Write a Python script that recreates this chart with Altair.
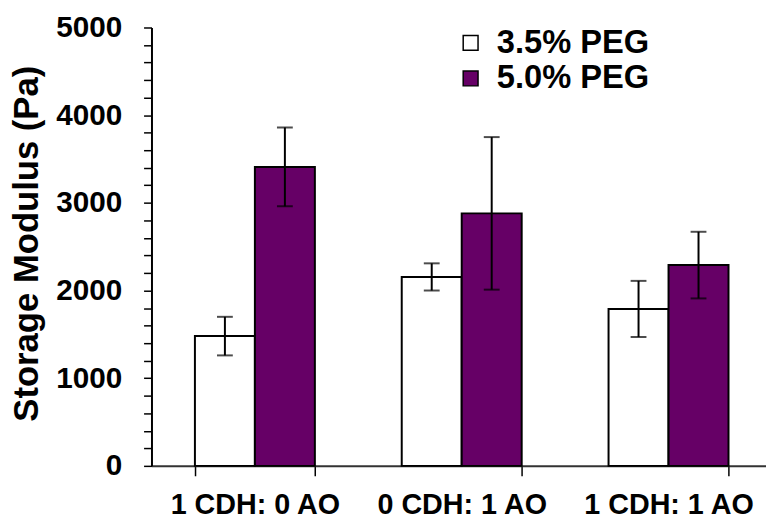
import altair as alt
import pandas as pd

categories = ["1 CDH: 0 AO", "0 CDH: 1 AO", "1 CDH: 1 AO"]
series = ["3.5% PEG", "5.0% PEG"]
peg35 = [1480, 2155, 1790]
peg35_err = [220, 155, 320]
peg50 = [3410, 2880, 2290]
peg50_err = [450, 870, 380]
y_ticks = list(range(0, 5001, 200))
colors = ["#ffffff", "#660066"]

rows = []
for c, v, e in zip(categories, peg35, peg35_err):
    rows.append({"cat": c, "series": series[0], "value": v, "lo": v - e, "hi": v + e})
for c, v, e in zip(categories, peg50, peg50_err):
    rows.append({"cat": c, "series": series[1], "value": v, "lo": v - e, "hi": v + e})
df = pd.DataFrame(rows)

FONT = "Liberation Sans"

x = alt.X("cat:N", sort=categories, title=None,
          scale=alt.Scale(range=[0, 627], paddingInner=0.42, paddingOuter=0.21),
          axis=alt.Axis(labelAngle=0, labelFont=FONT, labelFontSize=29, labelFontWeight="bold",
                        labelColor="black", labelPadding=15, tickBand="extent", tickSize=10,
                        tickColor="black", tickWidth=1.5, domainColor="#333333", domainWidth=2,
                        labelOverlap=False))
xo = alt.XOffset("series:N", sort=series, scale=alt.Scale(paddingInner=0, paddingOuter=0))
yscale = alt.Scale(domain=[0, 5000], nice=False)
y = alt.Y("value:Q", scale=yscale, title="Storage Modulus (Pa)",
          axis=alt.Axis(values=y_ticks, tickCount=len(y_ticks) + 5, format="d",
                        labelExpr="datum.value % 1000 == 0 ? datum.label : ''",
                        labelOverlap=False,
                        labelFont=FONT, labelFontSize=30, labelFontWeight="bold", labelColor="black",
                        labelPadding=22, tickSize=8, tickColor="black", tickWidth=1.5,
                        domainColor="black", domainWidth=2, grid=False,
                        titleFont=FONT, titleFontSize=35, titleFontWeight="bold", titleColor="black",
                        titleX=-108, titleY=218))

bars = alt.Chart(df).mark_bar(stroke="black", strokeWidth=2).encode(
    x=x, xOffset=xo, y=y,
    fill=alt.Fill("series:N", sort=series, scale=alt.Scale(domain=series, range=colors),
                  legend=alt.Legend(title=None, orient="none", legendX=306, legendY=-1,
                                    symbolType="square", symbolSize=225, symbolStrokeColor="black",
                                    symbolStrokeWidth=1.5, labelFont=FONT, labelFontSize=33,
                                    labelFontWeight="bold", labelColor="black", labelOffset=10,
                                    rowPadding=2, padding=0)),
)

rules = alt.Chart(df).mark_rule(color="black", strokeWidth=2).encode(
    x=x, xOffset=xo, y=alt.Y("lo:Q", scale=yscale), y2="hi:Q")
cap_lo = alt.Chart(df).mark_tick(color="black", thickness=2, size=16, orient="horizontal").encode(
    x=x, xOffset=xo, y=alt.Y("lo:Q", scale=yscale))
cap_hi = alt.Chart(df).mark_tick(color="black", thickness=2, size=16, orient="horizontal").encode(
    x=x, xOffset=xo, y=alt.Y("hi:Q", scale=yscale))

chart = alt.layer(bars, rules, cap_lo, cap_hi).properties(
    width=621, height=443,
    autosize=alt.AutoSizeParams(type="none"),
    padding={"left": 145, "top": 17, "right": 0, "bottom": 52},
    background="white",
).configure_view(stroke=None)

chart.save("out.html", embed_options={"renderer": "svg", "actions": False})
